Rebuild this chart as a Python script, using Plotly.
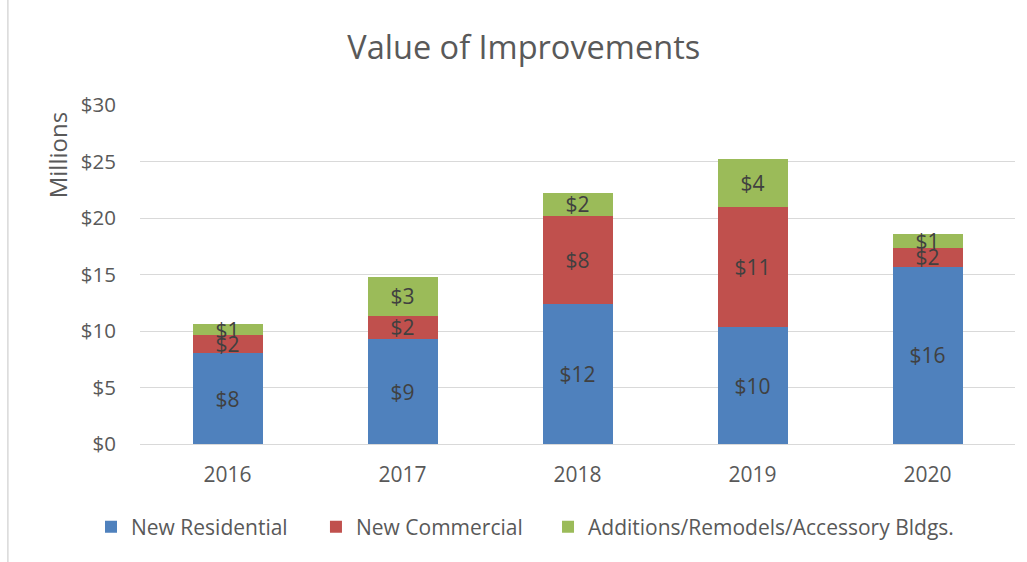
import plotly.graph_objects as go

years = ["2016", "2017", "2018", "2019", "2020"]
new_residential = [8.03, 9.29, 12.42, 10.33, 15.69]
new_commercial = [1.64, 2.06, 7.78, 10.64, 1.68]
additions = [0.92, 3.43, 1.99, 4.28, 1.21]
series_names = ["New Residential", "New Commercial", "Additions/Remodels/Accessory Bldgs."]
colors = ["#4F81BD", "#C0504D", "#9BBB59"]
y_ticks = [0, 5, 10, 15, 20, 25, 30]
y_tick_text = ["$0", "$5", "$10", "$15", "$20", "$25", "$30"]

FONT = "Open Sans, sans-serif"
TXT = "#595959"
legend_ids = ["legend", "legend2", "legend3"]
legend_x = [-0.056, 0.2011, 0.4663]

fig = go.Figure()
for name, vals, col, lg in zip(series_names, [new_residential, new_commercial, additions], colors, legend_ids):
    fig.add_trace(go.Bar(
        x=years, y=vals, name=name, legend=lg, showlegend=True,
        marker=dict(color=col, line=dict(width=0)),
        texttemplate="$%{y:.0f}", textposition="inside", insidetextanchor="middle",
        textangle=0, constraintext="none",
        textfont=dict(size=21, color="#404040", family=FONT),
    ))

legend_common = dict(orientation="h", xanchor="left", y=-0.245, yanchor="middle",
                     font=dict(size=21, color=TXT, family=FONT), itemwidth=30,
                     bgcolor="rgba(0,0,0,0)", borderwidth=0)
layout_legends = {}
for lg, lx in zip(legend_ids, legend_x):
    layout_legends[lg] = dict(x=lx, **legend_common)

fig.update_layout(
    barmode="stack", bargap=0.6, showlegend=True,
    width=1027, height=562,
    paper_bgcolor="white", plot_bgcolor="white",
    margin=dict(l=140, r=12, t=105, b=118, autoexpand=False),
    font=dict(family=FONT, color=TXT, size=18),
    title=dict(text="Value of Improvements", x=0.510, xanchor="center", y=0.9146, yanchor="middle",
               font=dict(size=32.5, color=TXT, family=FONT)),
    uniformtext=dict(minsize=21, mode="show"),
    xaxis=dict(showgrid=False, showline=True, linecolor="#D9D9D9", linewidth=1, automargin=False,
               ticks="", tickfont=dict(size=21, color=TXT), ticklabelstandoff=12),
    yaxis=dict(range=[0, 30], tickvals=y_ticks, ticktext=y_tick_text, showgrid=True, automargin=False,
               gridcolor="#D9D9D9", gridwidth=1, zeroline=False, showline=False,
               tickfont=dict(size=20.5, color=TXT), ticks="", ticklabelstandoff=23),
    annotations=[dict(text="Millions", xref="paper", yref="paper", x=-0.0943, y=0.853,
                      textangle=-90, showarrow=False, xanchor="center", yanchor="middle",
                      font=dict(size=24, color=TXT, family=FONT))],
    shapes=[dict(type="line", xref="paper", yref="paper", x0=-0.151, x1=-0.151, y0=-0.35, y1=1.32,
                 line=dict(color="#D9D9D9", width=1.5))],
    **layout_legends,
)

fig.write_html("out.html", config={"displayModeBar": False},
               post_script="document.body.style.margin='0';document.body.style.overflow='hidden';")
